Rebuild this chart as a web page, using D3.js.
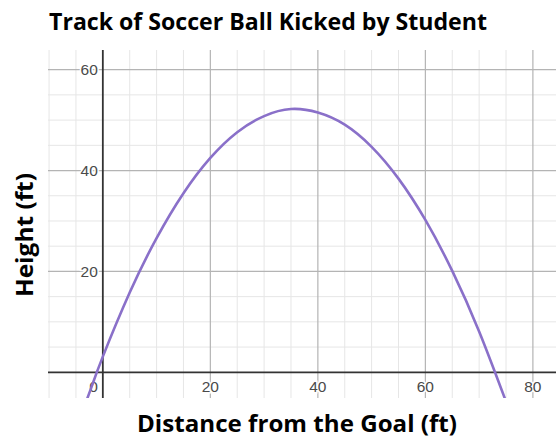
<!DOCTYPE html>
<html>
<head>
<meta charset="utf-8">
<script src="https://cdn.jsdelivr.net/npm/d3@7"></script>
<style>
  body { margin: 0; background: #fff; }
  svg { display: block; }
  .tick-label { font-family: "Liberation Sans", Arial, sans-serif; font-size: 15.5px; fill: #4a4a4a;
                stroke: #fff; stroke-width: 3px; paint-order: stroke; }
  .title { font-family: "Open Sans", Lato, sans-serif; font-weight: bold; }
</style>
</head>
<body>
<div id="chart"></div>
<script>
// values
var distances = [-3, -2, 0, 5, 10, 15, 20, 25, 30, 35, 40, 45, 50, 55, 60, 65, 70, 75];
var heights   = [-5.5, -2.6, 3.1, 15.8, 26.6, 35.5, 42.5, 47.6, 50.8, 52.2, 51.5, 49.1, 44.7, 38.4, 30.2, 20.1, 8.1, -5.8];
var xTicks = [0, 20, 40, 60, 80];
var yTicks = [20, 40, 60];
var xMinor = [-10, -5, 5, 10, 15, 25, 30, 35, 45, 50, 55, 65, 70, 75];
var yMinor = [5, 10, 15, 25, 30, 35, 45, 50, 55];

var W = 560, H = 438;
var plotLeft = 48, plotRight = 556, plotTop = 50, plotBottom = 398;

var svg = d3.select("#chart").append("svg")
    .attr("width", W)
    .attr("height", H);

var x = d3.scaleLinear().domain([-10.2, 84.3]).range([plotLeft, plotRight]);
var y = d3.scaleLinear().domain([-5.1, 63.9]).range([plotBottom, plotTop]);

svg.append("clipPath").attr("id", "plot-clip")
   .append("rect")
   .attr("x", plotLeft).attr("y", plotTop)
   .attr("width", plotRight - plotLeft).attr("height", plotBottom - plotTop);

var grid = svg.append("g").attr("clip-path", "url(#plot-clip)");

// minor grid
grid.selectAll(".vminor").data(xMinor).enter().append("line")
    .attr("x1", d => x(d)).attr("x2", d => x(d))
    .attr("y1", plotTop).attr("y2", plotBottom)
    .style("stroke", "#e6e6e6").style("stroke-width", 1);
grid.selectAll(".hminor").data(yMinor).enter().append("line")
    .attr("x1", plotLeft).attr("x2", plotRight)
    .attr("y1", d => y(d)).attr("y2", d => y(d))
    .style("stroke", "#e6e6e6").style("stroke-width", 1);

// major grid
grid.selectAll(".vmajor").data(xTicks.filter(d => d !== 0)).enter().append("line")
    .attr("x1", d => x(d)).attr("x2", d => x(d))
    .attr("y1", plotTop).attr("y2", plotBottom)
    .style("stroke", "#b4b4b4").style("stroke-width", 1.2);
grid.selectAll(".hmajor").data(yTicks).enter().append("line")
    .attr("x1", plotLeft).attr("x2", plotRight)
    .attr("y1", d => y(d)).attr("y2", d => y(d))
    .style("stroke", "#b4b4b4").style("stroke-width", 1.2);

// axes
grid.append("line")
    .attr("x1", plotLeft).attr("x2", plotRight)
    .attr("y1", y(0)).attr("y2", y(0))
    .style("stroke", "#333").style("stroke-width", 1.8);
grid.append("line")
    .attr("x1", x(0)).attr("x2", x(0))
    .attr("y1", plotTop).attr("y2", plotBottom)
    .style("stroke", "#333").style("stroke-width", 1.8);

// tick labels
svg.selectAll(".ylab").data(yTicks).enter().append("text")
    .attr("class", "tick-label")
    .attr("x", x(0) - 5)
    .attr("y", d => y(d) + 5.5)
    .attr("text-anchor", "end")
    .text(d => d);

svg.selectAll(".xlab").data(xTicks).enter().append("text")
    .attr("class", "tick-label")
    .attr("x", d => d === 0 ? x(0) - 5 : x(d))
    .attr("y", y(0) + 20)
    .attr("text-anchor", d => d === 0 ? "end" : "middle")
    .text(d => d);

// trajectory
var line = d3.line()
    .x((d, i) => x(distances[i]))
    .y(d => y(d))
    .curve(d3.curveNatural);

svg.append("path")
    .datum(heights)
    .attr("clip-path", "url(#plot-clip)")
    .attr("d", line)
    .style("fill", "none")
    .style("stroke", "#8a70c9")
    .style("stroke-width", 2.6);

// titles
svg.append("text")
    .attr("class", "title")
    .attr("x", 268).attr("y", 30)
    .attr("text-anchor", "middle")
    .attr("textLength", 438)
    .attr("lengthAdjust", "spacingAndGlyphs")
    .style("font-size", "22.5px")
    .text("Track of Soccer Ball Kicked by Student");

svg.append("text")
    .attr("class", "title")
    .attr("x", 297).attr("y", 432)
    .attr("text-anchor", "middle")
    .attr("textLength", 320)
    .attr("lengthAdjust", "spacingAndGlyphs")
    .style("font-size", "22.5px")
    .text("Distance from the Goal (ft)");

svg.append("text")
    .attr("class", "title")
    .attr("transform", "translate(33,235) rotate(-90)")
    .attr("text-anchor", "middle")
    .attr("textLength", 124)
    .attr("lengthAdjust", "spacingAndGlyphs")
    .style("font-size", "22.5px")
    .text("Height (ft)");
</script>
</body>
</html>
